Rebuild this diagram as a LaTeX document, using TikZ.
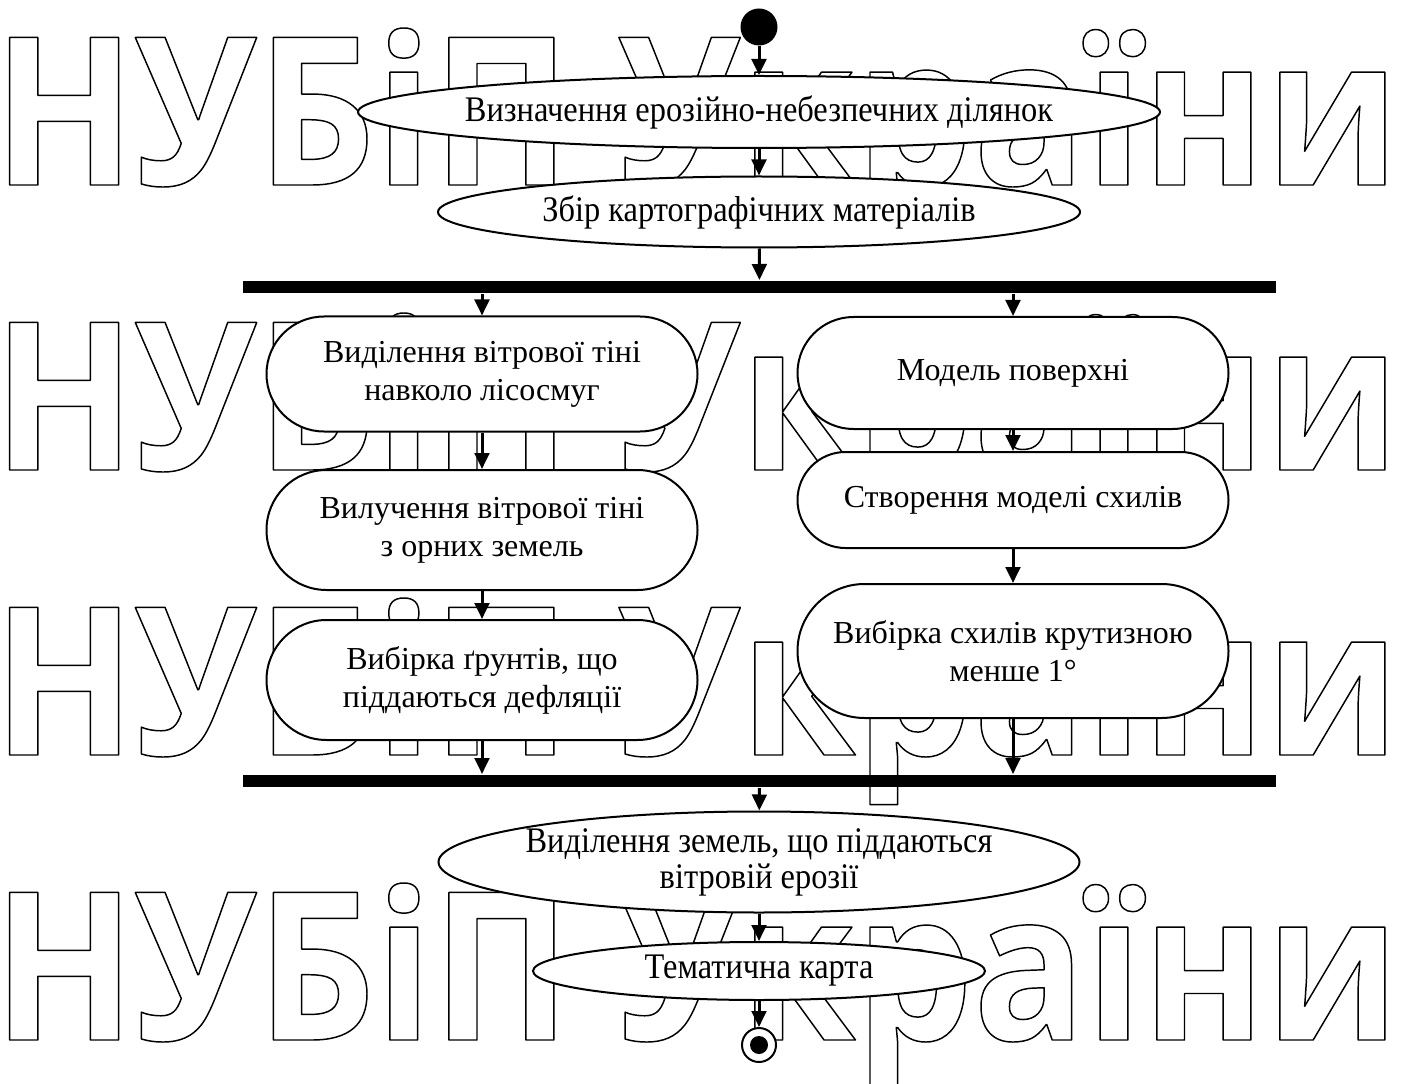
\documentclass[tikz,border=0pt]{standalone}
\usepackage{fontspec}
\setmainfont{Liberation Serif}
\newfontfamily\narrowfont{Liberation Serif}[FakeStretch=0.9]
\newfontfamily\wmfont{Open Sans}[FakeStretch=0.9]
\usetikzlibrary{shapes.geometric,arrows.meta}

% stroke-only text for the background stamp
\newcommand\outlinetext[1]{\special{pdf:literal direct 1 Tr 1.1 w 1 j}#1\special{pdf:literal direct 0 Tr}}

\tikzset{every picture/.style={line width=1.5pt}}
\tikzset{
  stamp/.style={anchor=base west, inner sep=0pt, font=\wmfont\bfseries\fontsize{155pt}{155pt}\selectfont},
  oval/.style={ellipse, draw, fill=white, inner sep=0pt, inner xsep=-15pt, align=center,
    font=\narrowfont\fontsize{27pt}{27pt}\selectfont},
  activity/.style={rectangle, draw, fill=white, inner sep=0pt, align=center,
    rounded corners=0.375*#1pt, minimum height=0.75*#1pt, minimum width=0.75*431pt,
    font=\fontsize{24pt}{28.5pt}\selectfont},
  syncbar/.style={rectangle, fill=black, inner sep=0pt, minimum width=0.75*1033pt, minimum height=0.75*12pt},
  flow/.style={line width=2.25pt, -{Triangle[length=12pt,width=11pt]}},
}

\begin{document}
\begin{tikzpicture}[x=0.75pt,y=0.75pt,yscale=-1]
	\useasboundingbox (0,0) rectangle (1410,1084);

	% background stamp
	\foreach \y/\n in {185/1,470/2,755/3,1040/4}
		\node[stamp] (wm\n) at (-8,\y) {\outlinetext{НУБіП України}};

	% Start / end
	\node[circle, fill, inner sep=0pt, minimum size=0.75*37pt] (start) at (759,27) {};
	\node[circle, draw, fill=white, inner sep=0pt, minimum size=0.75*34pt] (final) at (759,1045) {};
	\fill (final.center) circle [radius=9];

	% Ovals
	\node[oval, minimum width=0.75*802pt, minimum height=0.75*72pt] (detect) at (759,112) {Визначення ерозійно-небезпечних ділянок};
	\node[oval, minimum width=0.75*642pt, minimum height=0.75*71pt] (gather) at (759,212) {Збір картографічних матеріалів};
	\node[oval, minimum width=0.75*641pt, minimum height=0.75*101pt] (erosion) at (759,862) {Виділення земель, що піддаються\\вітровій ерозії};
	\node[oval, minimum width=0.75*452pt, minimum height=0.75*58pt] (themmap) at (759,971) {Тематична карта};

	% Bars
	\node[syncbar] (fork) at (759.5,287) {};
	\node[syncbar] (join) at (759.5,781) {};

	% Left branch
	\node[activity=115] (shadow) at (482,374) {Виділення вітрової тіні\\навколо лісосмуг};
	\node[activity=120] (removeshadow) at (482,530) {Вилучення вітрової тіні\\з орних земель};
	\node[activity=120] (soils) at (482,680) {Вибірка ґрунтів, що\\піддаються дефляції};

	% Right branch
	\node[activity=112] (surface) at (1013,373) {Модель поверхні};
	\node[activity=96] (slopes) at (1013,500) {Створення моделі схилів};
	\node[activity=134] (flatslopes) at (1013,651) {Вибірка схилів крутизною\\менше 1°};

	% Connections
	\draw[flow] (start) -- (detect);
	\draw[flow] (detect) -- (gather);
	\draw[flow] (gather) -- (fork);
	\draw[flow] (fork.south -| shadow) -- (shadow);
	\draw[flow] (fork.south -| surface) -- (surface);
	\draw[flow] (shadow) -- (removeshadow);
	\draw[flow] (removeshadow) -- (soils);
	\draw[flow] (soils) -- (soils |- join.north);
	\draw[flow] (surface) -- (slopes);
	\draw[flow] (slopes) -- (flatslopes);
	\draw[flow] (flatslopes) -- (flatslopes |- join.north);
	\draw[flow] (join) -- (erosion);
	\draw[flow] (erosion) -- (themmap);
	\draw[flow] (themmap) -- (final);

\end{tikzpicture}
\end{document}
